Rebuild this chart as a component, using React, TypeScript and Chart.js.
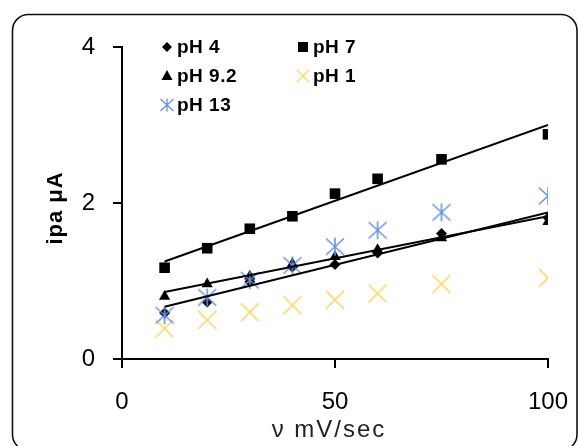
import React, { useEffect, useRef } from 'react';
import { Chart, registerables } from 'chart.js';

Chart.register(...registerables);

// ---- data ----
const scanRates = [10, 20, 30, 40, 50, 60, 75, 100];
const ph4 = [0.59, 0.73, 0.99, 1.18, 1.21, 1.36, 1.61, 1.81];
const ph7 = [1.17, 1.42, 1.67, 1.83, 2.12, 2.31, 2.56, 2.88];
const ph92 = [0.8, 0.96, 1.06, 1.22, 1.31, 1.4, 1.55, 1.76];
const ph1 = [0.39, 0.5, 0.6, 0.69, 0.76, 0.84, 0.96, 1.04];
const ph13 = [0.56, 0.79, 1.01, 1.2, 1.44, 1.65, 1.88, 2.09];

const trendX = [10, 100];
const trendPh4 = [0.67, 1.88];
const trendPh7 = [1.25, 3.0];
const trendPh92 = [0.86, 1.83];

const legendLabels = ['pH 4', 'pH 7', 'pH 9.2', 'pH 1', 'pH 13'];
const xTitle = 'ν mV/sec';
const yTitle = 'ipa μA';
const xRange = [0, 100];
const yRange = [0, 4];
const xStep = 50;
const yStep = 2;

const FONT = '"Liberation Sans", Arial, sans-serif';
const YELLOW = '#FFD45E';
const BLUE = '#6A92E0';

function pts(xs: number[], ys: number[]) {
  return xs.map((x, i) => ({ x, y: ys[i] }));
}

function drawX(ctx: CanvasRenderingContext2D, cx: number, cy: number, h: number, color: string, lw: number) {
  ctx.save();
  ctx.strokeStyle = color;
  ctx.lineWidth = lw;
  ctx.beginPath();
  ctx.moveTo(cx - h, cy - h);
  ctx.lineTo(cx + h, cy + h);
  ctx.moveTo(cx + h, cy - h);
  ctx.lineTo(cx - h, cy + h);
  ctx.stroke();
  ctx.restore();
}

function drawStar(ctx: CanvasRenderingContext2D, cx: number, cy: number, h: number, color: string, lw: number) {
  ctx.save();
  ctx.strokeStyle = color;
  ctx.lineWidth = lw;
  ctx.beginPath();
  ctx.moveTo(cx - h, cy - h * 0.92);
  ctx.lineTo(cx + h, cy + h * 0.92);
  ctx.moveTo(cx + h, cy - h * 0.92);
  ctx.lineTo(cx - h, cy + h * 0.92);
  ctx.moveTo(cx, cy - h);
  ctx.lineTo(cx, cy + h);
  ctx.stroke();
  ctx.restore();
}

function makeMarker(kind: 'x' | 'star', h: number, color: string, lw: number) {
  const size = Math.ceil(2 * h + 4);
  const c = document.createElement('canvas');
  c.width = size;
  c.height = size;
  const ctx = c.getContext('2d')!;
  if (kind === 'x') drawX(ctx, size / 2, size / 2, h, color, lw);
  else drawStar(ctx, size / 2, size / 2, h, color, lw);
  return c;
}

const decorPlugin = {
  id: 'decor',
  beforeDraw(chart: any) {
    const ctx = chart.ctx as CanvasRenderingContext2D;
    ctx.save();
    ctx.fillStyle = '#ffffff';
    ctx.fillRect(0, 0, chart.width, chart.height);
    ctx.beginPath();
    (ctx as any).roundRect(12.5, 14.5, 564.5, 436, 16);
    ctx.lineWidth = 1.6;
    ctx.strokeStyle = '#111';
    ctx.stroke();
    ctx.restore();
  },
  afterDraw(chart: any) {
    const ctx = chart.ctx as CanvasRenderingContext2D;
    const a = chart.chartArea;
    ctx.save();
    // legend
    const colX = [a.left + 45, a.left + 181];
    const rowY = [a.top, a.top + 29, a.top + 58];
    const slots = [
      [0, 0],
      [1, 0],
      [0, 1],
      [1, 1],
      [0, 2],
    ];
    ctx.font = `bold 19px ${FONT}`;
    (ctx as any).letterSpacing = '0.5px';
    ctx.textAlign = 'left';
    ctx.textBaseline = 'middle';
    ctx.fillStyle = '#000';
    legendLabels.forEach((label, i) => {
      const [c, r] = slots[i];
      const mx = colX[c];
      const my = rowY[r];
      ctx.fillStyle = '#000';
      if (i === 0) {
        ctx.beginPath();
        ctx.moveTo(mx, my - 5);
        ctx.lineTo(mx + 5, my);
        ctx.lineTo(mx, my + 5);
        ctx.lineTo(mx - 5, my);
        ctx.closePath();
        ctx.fill();
      } else if (i === 1) {
        ctx.fillRect(mx - 5, my - 5, 10, 10);
      } else if (i === 2) {
        ctx.beginPath();
        ctx.moveTo(mx, my - 6);
        ctx.lineTo(mx + 5.5, my + 4);
        ctx.lineTo(mx - 5.5, my + 4);
        ctx.closePath();
        ctx.fill();
      } else if (i === 3) {
        drawX(ctx, mx, my, 6, YELLOW, 1.3);
      } else {
        drawStar(ctx, mx, my, 6.5, BLUE, 1.3);
      }
      ctx.fillStyle = '#000';
      ctx.fillText(label, mx + 10, my + 1);
    });
    // x title
    ctx.font = `24px ${FONT}`;
    (ctx as any).letterSpacing = '2px';
    ctx.textAlign = 'center';
    ctx.textBaseline = 'alphabetic';
    ctx.fillStyle = '#222';
    ctx.fillText(xTitle, (a.left + a.right) / 2 - 6, 437);
    // y title
    ctx.font = `bold 22px ${FONT}`;
    (ctx as any).letterSpacing = '1px';
    ctx.translate(62, (a.top + a.bottom) / 2 + 5);
    ctx.rotate(-Math.PI / 2);
    ctx.fillStyle = '#000';
    ctx.fillText(yTitle, 0, 0);
    ctx.restore();
  },
};

export default function App() {
  const ref = useRef<HTMLCanvasElement | null>(null);
  useEffect(() => {
    document.body.style.margin = '0';
    const canvas = ref.current!;
    const xMarker = makeMarker('x', 9, YELLOW, 1.6);
    const starMarker = makeMarker('star', 9, BLUE, 1.6);
    const chart = new Chart(canvas, {
      type: 'scatter',
      data: {
        datasets: [
          {
            label: 'pH 4 trend',
            type: 'line',
            data: pts(trendX, trendPh4),
            borderColor: '#000',
            borderWidth: 2,
            pointRadius: 0,
            order: 0,
          },
          {
            label: 'pH 7 trend',
            type: 'line',
            data: pts(trendX, trendPh7),
            borderColor: '#000',
            borderWidth: 2,
            pointRadius: 0,
            order: 0,
          },
          {
            label: 'pH 9.2 trend',
            type: 'line',
            data: pts(trendX, trendPh92),
            borderColor: '#000',
            borderWidth: 2,
            pointRadius: 0,
            order: 0,
          },
          {
            label: legendLabels[0],
            data: pts(scanRates, ph4),
            pointStyle: 'rectRot',
            pointRadius: 5.5,
            backgroundColor: '#000',
            borderColor: '#000',
            borderWidth: 0,
            order: 2,
          },
          {
            label: legendLabels[1],
            data: pts(scanRates, ph7),
            pointStyle: 'rect',
            pointRadius: 7.5,
            backgroundColor: '#000',
            borderColor: '#000',
            borderWidth: 0,
            order: 5,
          },
          {
            label: legendLabels[2],
            data: pts(scanRates, ph92),
            pointStyle: 'triangle',
            pointRadius: 6.5,
            backgroundColor: '#000',
            borderColor: '#000',
            borderWidth: 0,
            order: 3,
          },
          {
            label: legendLabels[3],
            data: pts(scanRates, ph1),
            pointStyle: xMarker,
            pointRadius: 9,
            backgroundColor: YELLOW,
            borderColor: YELLOW,
            order: 4,
          },
          {
            label: legendLabels[4],
            data: pts(scanRates, ph13),
            pointStyle: starMarker,
            pointRadius: 9,
            backgroundColor: BLUE,
            borderColor: BLUE,
            order: 1,
          },
        ],
      },
      options: {
        animation: false,
        responsive: false,
        maintainAspectRatio: false,
        layout: { padding: { left: 0, right: 30, top: 47, bottom: 0 } },
        plugins: {
          legend: { display: false },
          tooltip: { enabled: false },
          title: { display: false },
        },
        scales: {
          x: {
            type: 'linear',
            min: xRange[0],
            max: xRange[1],
            ticks: {
              stepSize: xStep,
              font: { family: FONT, size: 24 },
              color: '#000',
              padding: 20,
              maxRotation: 0,
            },
            grid: { drawOnChartArea: false, drawTicks: true, tickLength: 9, color: '#000', lineWidth: 2 },
            border: { display: true, color: '#000', width: 2 },
            afterFit: (s: any) => {
              s.height = 87;
              s.paddingLeft = 0;
              s.paddingRight = 0;
            },
          },
          y: {
            type: 'linear',
            min: yRange[0],
            max: yRange[1],
            ticks: {
              stepSize: yStep,
              font: { family: FONT, size: 24 },
              color: '#000',
              padding: 18,
            },
            grid: { drawOnChartArea: false, drawTicks: true, tickLength: 9, color: '#000', lineWidth: 2 },
            border: { display: true, color: '#000', width: 2 },
            afterFit: (s: any) => {
              s.width = 122;
              s.paddingTop = 0;
              s.paddingBottom = 0;
            },
          },
        },
      },
      plugins: [decorPlugin],
    } as any);
    return () => chart.destroy();
  }, []);
  return (
    <div style={{ width: 578, height: 446, overflow: 'hidden' }}>
      <canvas ref={ref} width={578} height={446} style={{ display: 'block', width: 578, height: 446 }} />
    </div>
  );
}
